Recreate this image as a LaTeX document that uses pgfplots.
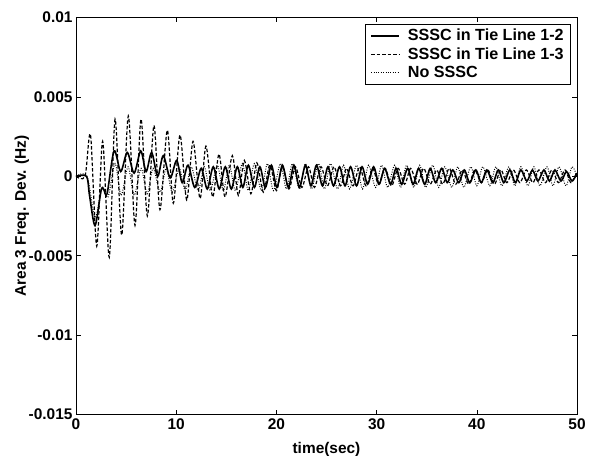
\documentclass[border=0pt]{standalone}
\usepackage{pgfplots}
\pgfplotsset{compat=1.18}
\usepackage{fontspec}
\setmainfont{Liberation Sans}
\begin{document}
\begin{tikzpicture}
\begin{axis}[
  scale only axis,
  width=501bp, height=397bp,
  xmin=0, xmax=50, ymin=-0.015, ymax=0.01,
  xtick={0,10,20,30,40,50},
  xticklabels={0,10,20,30,40,50},
  ytick={-0.015,-0.01,-0.005,0,0.005,0.01},
  yticklabels={-0.015,-0.01,-0.005,0,0.005,0.01},
  scaled y ticks=false,
  tick align=inside,
  major tick length=5bp,
  tick style={black, line width=0.6bp},
  axis line style={line width=0.9bp},
  ticklabel style={font=\fontsize{15.5}{18}\selectfont\bfseries},
  xticklabel style={yshift=-1bp},
  label style={font=\fontsize{15.5}{18}\selectfont\bfseries},
  xlabel={time(sec)},
  ylabel={Area 3 Freq. Dev. (Hz)},
  xlabel style={at={(axis description cs:0.5,-0.087)},anchor=center},
  ylabel style={at={(axis description cs:-0.108,0.5)},anchor=center},
  legend style={at={(axis description cs:0.988,0.984)}, anchor=north east,
    draw=black, line width=0.6bp, font=\fontsize{16.2}{19}\selectfont\bfseries,
    row sep=1.5bp, inner xsep=5bp, inner ysep=3bp,
    /tikz/every odd column/.append style={column sep=6bp}},
  legend cell align=left,
  legend image code/.code={\draw[#1] (0bp,0bp) -- (28bp,0bp);},
]
\addplot[black, line width=1.6bp, smooth, tension=0.5] coordinates {
(0,0) (1.05,0) (1.35,-0.0012) (1.9,-0.0031) (2.5,-0.0009) (2.75,-0.0008) (3.1,-0.0011)
(3.8,0.0016) (4.46,0.0003) (5.12,0.0015) (5.8,0.0002) (6.46,0.0016) (7.0,0.0003)
(7.55,0.0015) (8.15,0.0) (8.71,0.0013) (9.4,-0.0001) (10.05,0.001) (10.6,-0.0004)
(11.18,0.0007) (11.85,-0.0007) (12.5,0.0005) (13.1,-0.0008) (13.7,0.0006) (14.3,-0.0008)
(14.9,0.0006) (15.5,-0.0008) (16.1,0.0006) (16.65,-0.0007) (17.2,0.0007) (17.8,-0.0007)
(18.35,0.0006) (18.9,-0.0007) (19.5,0.0007) (20.05,-0.0007) (20.6,0.0007) (21.2,-0.0007)
(21.75,0.0007) (22.3,-0.0007) (22.9,0.0007) (23.45,-0.0006) (24.0,0.0007) (24.6,-0.0006)
(25.15,0.0006) (25.7,-0.0006) (26.3,0.0006) (26.85,-0.0006) (27.4,0.0006) (28.0,-0.0006)
(28.55,0.0006) (29.1,-0.0005) (29.7,0.0006) (30.25,-0.0005) (30.8,0.0005) (31.4,-0.0005)
(31.95,0.0005) (32.5,-0.0005) (33.1,0.0005) (33.65,-0.0005) (34.2,0.0005) (34.8,-0.0005)
(35.35,0.0005) (35.9,-0.0004) (36.5,0.0005) (37.05,-0.0004) (37.6,0.0004) (38.2,-0.0004)
(38.75,0.0004) (39.3,-0.0004) (39.9,0.0004) (40.45,-0.0004) (41.0,0.0004) (41.6,-0.0004)
(42.15,0.0004) (42.7,-0.0004) (43.3,0.0004) (43.85,-0.0004) (44.4,0.0004) (45.0,-0.0003)
(45.55,0.0004) (46.1,-0.0003) (46.7,0.0004) (47.25,-0.0003) (47.8,0.0004) (48.4,-0.0003)
(48.95,0.0003) (49.5,-0.0003) (50,0.0002)
};
\addlegendentry{SSSC in Tie Line 1-2}
\addplot[black, line width=1.2bp, dash pattern=on 3.5bp off 2bp, smooth, tension=0.5] coordinates {
(0,0) (0.9,0) (1.45,0.0026) (2.07,-0.0044) (2.66,0.0022) (3.32,-0.0051) (3.9,0.0036)
(4.56,-0.0037) (5.22,0.0038) (5.89,-0.0031) (6.49,0.0036) (7.12,-0.0025) (7.78,0.0032)
(8.38,-0.0021) (9.11,0.0029) (9.71,-0.0017) (10.38,0.0026) (11.05,-0.0015) (11.68,0.0022)
(12.38,-0.0014) (12.97,0.0019) (13.64,-0.0013) (14.27,0.0014) (14.87,-0.0013) (15.6,0.0013)
(16.2,-0.0012) (16.8,0.001) (17.45,-0.0011) (18.05,0.00085) (18.7,-0.001) (19.35,0.0007)
(20.0,-0.0009) (20.6,0.0006) (21.25,-0.0008) (21.9,0.0006) (22.55,-0.0007) (23.2,0.0006)
(23.8,-0.0007) (24.45,0.0006) (25.1,-0.0006) (25.75,0.0006) (26.4,-0.0006) (27.0,0.0005)
(27.65,-0.0006) (28.3,0.0006) (28.95,-0.0006) (29.6,0.0005) (30.2,-0.0005) (30.85,0.0005)
(31.5,-0.0006) (32.15,0.0005) (32.8,-0.0005) (33.4,0.0005) (34.05,-0.0005) (34.7,0.0005)
(35.35,-0.0005) (36.0,0.0004) (36.6,-0.0005) (37.25,0.0005) (37.9,-0.0005) (38.55,0.0004)
(39.2,-0.0005) (39.8,0.0004) (40.45,-0.0004) (41.1,0.0004) (41.75,-0.0005) (42.4,0.0004)
(43.0,-0.0004) (43.65,0.0004) (44.3,-0.0004) (44.95,0.0004) (45.6,-0.0004) (46.2,0.0004)
(46.85,-0.0004) (47.5,0.0004) (48.15,-0.0004) (48.8,0.0004) (49.4,-0.0004) (50,0.0003)
};
\addlegendentry{SSSC in Tie Line 1-3}
\addplot[black, line width=1bp, dash pattern=on 0.9bp off 1.5bp, smooth, tension=0.5] coordinates {
(0,0) (1.1,0) (1.9,-0.0026) (2.6,-0.0007) (3.2,-0.0013) (3.9,0.0008) (4.5,-0.0012)
(5.2,0.0006) (5.8,-0.0012) (6.5,0.0005) (7.1,-0.0011) (7.7,0.0005) (8.4,-0.001)
(9.0,0.0005) (9.6,-0.001) (10.3,0.0005) (10.9,-0.0009) (11.5,0.0006) (12.2,-0.0009)
(12.8,0.0006) (13.4,-0.0009) (14.1,0.0007) (14.7,-0.0009) (15.3,0.0007) (15.9,-0.0009)
(16.6,0.0008) (17.2,-0.0009) (17.8,0.0008) (18.5,-0.0009) (19.1,0.0008) (19.7,-0.0009)
(20.4,0.0008) (21.0,-0.0008) (21.6,0.0008) (22.3,-0.0008) (22.9,0.0008) (23.5,-0.0008)
(24.2,0.0008) (24.8,-0.0008) (25.4,0.0008) (26.1,-0.0008) (26.7,0.0007) (27.3,-0.0008)
(28.0,0.0007) (28.6,-0.0008) (29.2,0.0007) (29.9,-0.0007) (30.5,0.0007) (31.1,-0.0007)
(31.8,0.0007) (32.4,-0.0007) (33.0,0.0007) (33.7,-0.0007) (34.3,0.0007) (34.9,-0.0007)
(35.6,0.0007) (36.2,-0.0007) (36.8,0.0006) (37.5,-0.0007) (38.1,0.0006) (38.7,-0.0007)
(39.4,0.0006) (40.0,-0.0006) (40.6,0.0006) (41.3,-0.0006) (41.9,0.0006) (42.5,-0.0006)
(43.2,0.0006) (43.8,-0.0006) (44.4,0.0006) (45.1,-0.0006) (45.7,0.0006) (46.3,-0.0006)
(47.0,0.0006) (47.6,-0.0006) (48.2,0.0006) (48.9,-0.0006) (49.5,0.0006) (50,0.0)
};
\addlegendentry{No SSSC}
\end{axis}
\pgfresetboundingbox
\path ([xshift=-76bp,yshift=-41.5bp]current axis.south west) rectangle ([xshift=17bp,yshift=17.5bp]current axis.north east);
\end{tikzpicture}
\end{document}
